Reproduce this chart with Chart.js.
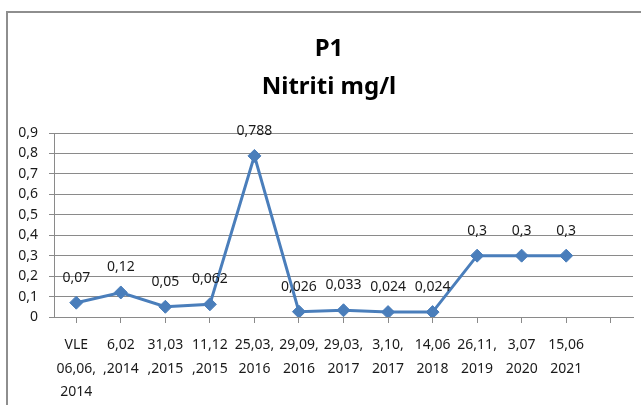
<!DOCTYPE html>
<html>
<head>
<meta charset="utf-8">
<script src="https://cdn.jsdelivr.net/npm/chart.js@4.4.1/dist/chart.umd.min.js"></script>
<style>
  html, body { margin: 0; padding: 0; background: #fff; }
  #wrap { position: relative; width: 641px; height: 405px; overflow: hidden; }
  #frame { position: absolute; left: 6px; top: 11px; width: 700px; height: 500px;
           border-top: 2px solid #8e8e8e; border-left: 2px solid #8e8e8e; }
  canvas { position: absolute; left: 0; top: 0; }
</style>
</head>
<body>
<div id="wrap">
  <div id="frame"></div>
  <canvas id="grafico" width="641" height="405"></canvas>
</div>
<script>
// Dati
const date = [
    ['VLE', '06,06,', '2014'],
    ['6,02', ',2014'],
    ['31,03', ',2015'],
    ['11,12', ',2015'],
    ['25,03,', '2016'],
    ['29,09,', '2016'],
    ['29,03,', '2017'],
    ['3,10,', '2017'],
    ['14,06', '2018'],
    ['26,11,', '2019'],
    ['3,07', '2020'],
    ['15,06', '2021'],
    ''
];
const nitriti = [0.07, 0.12, 0.05, 0.062, 0.788, 0.026, 0.033, 0.024, 0.024, 0.3, 0.3, 0.3, null];
const titolo = ['P1', 'Nitriti mg/l'];

const virgola = v => String(v).replace('.', ',');

// etichette sopra i punti
const etichette = {
    id: 'etichette',
    afterDatasetsDraw(chart) {
        const ctx = chart.ctx;
        const meta = chart.getDatasetMeta(0);
        ctx.save();
        ctx.font = '14px "Noto Sans"';
        ctx.fillStyle = '#1a1a1a';
        ctx.textAlign = 'center';
        ctx.textBaseline = 'middle';
        meta.data.forEach((p, i) => {
            const v = nitriti[i];
            if (v === null) return;
            ctx.fillText(virgola(v), p.x, p.y - 25);
        });
        ctx.restore();
    }
};

// titolo su due righe, un po' spostato a destra come nell'originale
const titoloPlugin = {
    id: 'titolo',
    afterDraw(chart) {
        const ctx = chart.ctx;
        ctx.save();
        ctx.font = 'bold 24px "Noto Sans"';
        ctx.fillStyle = '#000';
        ctx.textAlign = 'center';
        ctx.textBaseline = 'middle';
        titolo.forEach((riga, i) => ctx.fillText(riga, 329, 49 + i * 38.5));
        ctx.restore();
    }
};

const ctx = document.getElementById('grafico').getContext('2d');
new Chart(ctx, {
    type: 'line',
    data: {
        labels: date,
        datasets: [{
            data: nitriti,
            borderColor: '#4a7ebb',
            backgroundColor: '#4a7ebb',
            borderWidth: 3,
            pointStyle: 'rectRot',
            pointRadius: 6.5,
            pointBorderWidth: 1,
            tension: 0
        }]
    },
    options: {
        responsive: false,
        animation: false,
        layout: { padding: { left: 0, right: 8, top: 133, bottom: 0 } },
        plugins: {
            legend: { display: false },
            tooltip: { enabled: false },
            title: { display: false }
        },
        scales: {
            x: {
                offset: true,
                grid: { drawOnChartArea: false, tickLength: 6, color: '#8a8a8a' },
                border: { color: '#8a8a8a', width: 1 },
                ticks: {
                    autoSkip: false, maxRotation: 0, padding: 10,
                    color: '#1a1a1a',
                    font: { family: 'Noto Sans', size: 14, lineHeight: 1.7 }
                },
                afterFit: s => { s.height = 88; }
            },
            y: {
                min: 0, max: 0.9,
                grid: { color: '#8a8a8a', tickLength: 5 },
                border: { color: '#8a8a8a', width: 1 },
                ticks: {
                    stepSize: 0.1, padding: 11, color: '#1a1a1a',
                    font: { family: 'Noto Sans', size: 14 },
                    callback: v => virgola(Math.round(v * 10) / 10)
                },
                afterFit: s => { s.width = 54; }
            }
        }
    },
    plugins: [etichette, titoloPlugin]
});
</script>
</body>
</html>
